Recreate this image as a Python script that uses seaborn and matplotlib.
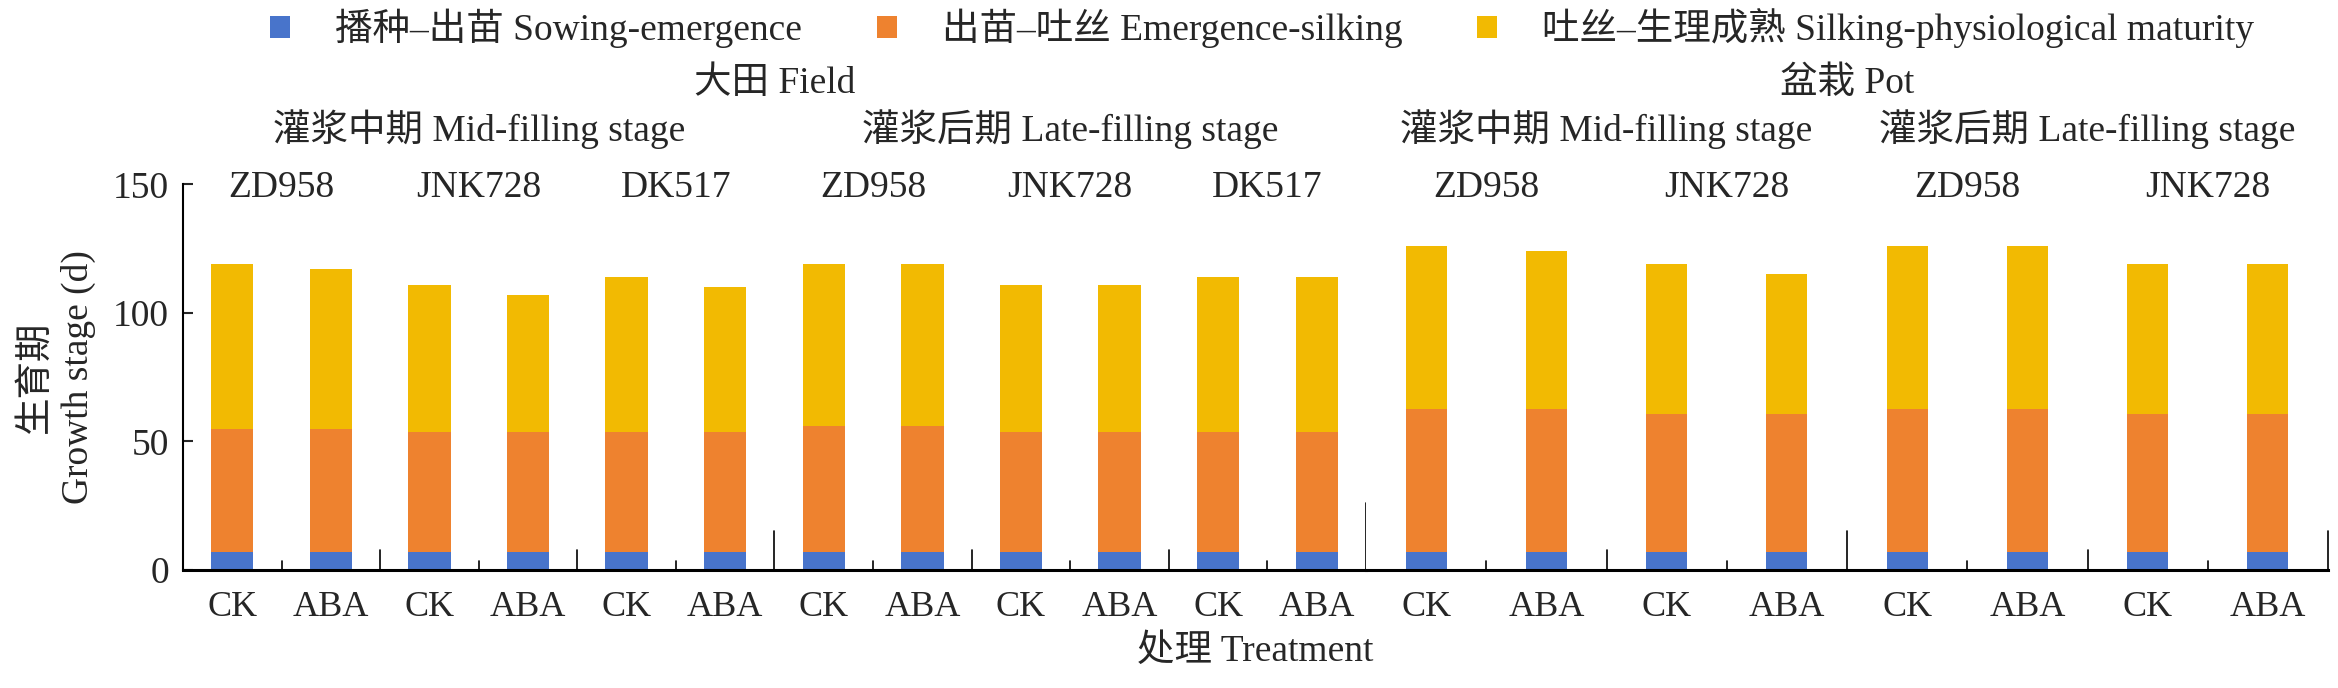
import pandas as pd
import seaborn as sns
import matplotlib.pyplot as plt
import matplotlib.transforms as mtransforms
from matplotlib.patches import Patch

sns.set_theme(style='white')
plt.rcParams['font.family'] = ['Liberation Serif', 'Noto Sans CJK SC']
plt.rcParams['axes.unicode_minus'] = False

# Bars in plotting order: field (3 varieties x 2 stages x CK/ABA), then pot (2 varieties)
sites = ['大田 Field', '盆栽 Pot']
stages = ['灌浆中期 Mid-filling stage', '灌浆后期 Late-filling stage']
field_varieties = ['ZD958', 'JNK728', 'DK517']
pot_varieties = ['ZD958', 'JNK728']
treatments = ['CK', 'ABA']

# Durations of each phase (d)
sow_emerg = [7, 7, 7, 7, 7, 7, 7, 7, 7, 7, 7, 7,
             7, 7, 7, 7, 7, 7, 7, 7]
emerg_silk = [48, 48, 46.5, 46.5, 46.5, 46.5, 49, 49, 46.5, 46.5, 46.5, 46.5,
              55.5, 55.5, 53.5, 53.5, 55.5, 55.5, 53.5, 53.5]
silk_mature = [64, 62, 57.5, 53.5, 60.5, 56.5, 63, 63, 57.5, 57.5, 60.5, 60.5,
               63.5, 61.5, 58.5, 54.5, 63.5, 63.5, 58.5, 58.5]

phase_names = ['播种–出苗 Sowing-emergence', '出苗–吐丝 Emergence-silking',
               '吐丝–生理成熟 Silking-physiological maturity']
colors = ['#4874CB', '#EE822F', '#F2BA02']

rows = []
for site, varieties in zip(sites, [field_varieties, pot_varieties]):
    for stage in stages:
        for var in varieties:
            for trt in treatments:
                rows.append({'site': site, 'stage': stage, 'variety': var, 'treatment': trt})
df = pd.DataFrame(rows)
df['slot'] = [str(i) for i in range(len(df))]
df['sow'] = sow_emerg
df['silk'] = df['sow'] + emerg_silk
df['total'] = df['silk'] + silk_mature

W, H = 2338, 688
fig = plt.figure(figsize=(W / 100, H / 100), dpi=100)
y0, y1 = 570, 184.3
ax_f = fig.add_axes([183 / W, 1 - y0 / H, (1366 - 183) / W, (y0 - y1) / H])
ax_p = fig.add_axes([1366 / W, 1 - y0 / H, (2328 - 1366) / W, (y0 - y1) / H])

short, mid, tall, tallest = 0.024, 0.051, 0.101, 0.175

for ax, site, varieties, width in [(ax_f, sites[0], field_varieties, 0.43),
                                   (ax_p, sites[1], pot_varieties, 0.34)]:
    d = df[df['site'] == site]
    order = list(d['slot'])
    for col, c in zip(['total', 'silk', 'sow'], colors[::-1]):
        sns.barplot(data=d, x='slot', y=col, order=order, color=c, saturation=1,
                    width=width, linewidth=0, errorbar=None, ax=ax)
    n = len(d)
    ax.set_xlim(-0.5, n - 0.5)
    ax.set_ylim(0, 150)
    ax.set_xlabel('')
    ax.set_ylabel('')
    ax.set_xticks(range(n))
    ax.set_xticklabels(d['treatment'], fontsize=26)
    ax.tick_params(axis='x', length=0, pad=15)
    for s in ['top', 'right']:
        ax.spines[s].set_visible(False)
    ax.spines['bottom'].set_linewidth(2.2)
    ax.spines['bottom'].set_color('black')

    trans = mtransforms.blended_transform_factory(ax.transData, ax.transAxes)
    nv = len(varieties)
    # separators between bars
    for k in range(n):
        xb = k + 0.5
        if k == n - 1:
            h = tallest if ax is ax_f else tall
        elif (k + 1) % (2 * nv) == 0:
            h = tall
        elif (k + 1) % 2 == 0:
            h = mid
        else:
            h = short
        ax.plot([xb, xb], [0, h], transform=trans, color='black', lw=1.2, clip_on=False)

    # variety labels
    for k in range(n // 2):
        ax.text(2 * k + 0.5, 0.99, d['variety'].iloc[2 * k], transform=trans,
                ha='center', va='center', fontsize=27)
    # stage labels
    for s, stage in enumerate(stages):
        ax.text(2 * nv * s + nv - 0.5, 1.143, stage, transform=trans,
                ha='center', va='center', fontsize=27)
    ax.text(0.5, 1.26, site, transform=ax.transAxes, ha='center', va='center', fontsize=27)

ax_f.spines['left'].set_linewidth(1.5)
ax_f.spines['left'].set_color('black')
ax_f.set_yticks([0, 50, 100, 150])
ax_f.tick_params(axis='y', direction='in', length=7, width=1.5, pad=10, labelsize=27, left=True)
ax_p.spines['left'].set_visible(False)
ax_p.set_yticks([])

fig.text(57 / W, 1 - 377 / H, '生育期\nGrowth stage (d)', rotation=90, ha='center', va='center',
         fontsize=27, linespacing=1.3)
fig.text(1255 / W, 1 - 652 / H, '处理 Treatment', ha='center', va='center', fontsize=27)

handles = [Patch(facecolor=c, edgecolor='none', label=l) for c, l in zip(colors, phase_names)]
fig.legend(handles=handles, loc='center', bbox_to_anchor=(1262 / W, 1 - 28 / H), ncol=3,
           frameon=False, fontsize=27, handlelength=0.53, handleheight=0.53,
           handletextpad=1.2, columnspacing=2.0)

fig.savefig('out.png', dpi=100)
